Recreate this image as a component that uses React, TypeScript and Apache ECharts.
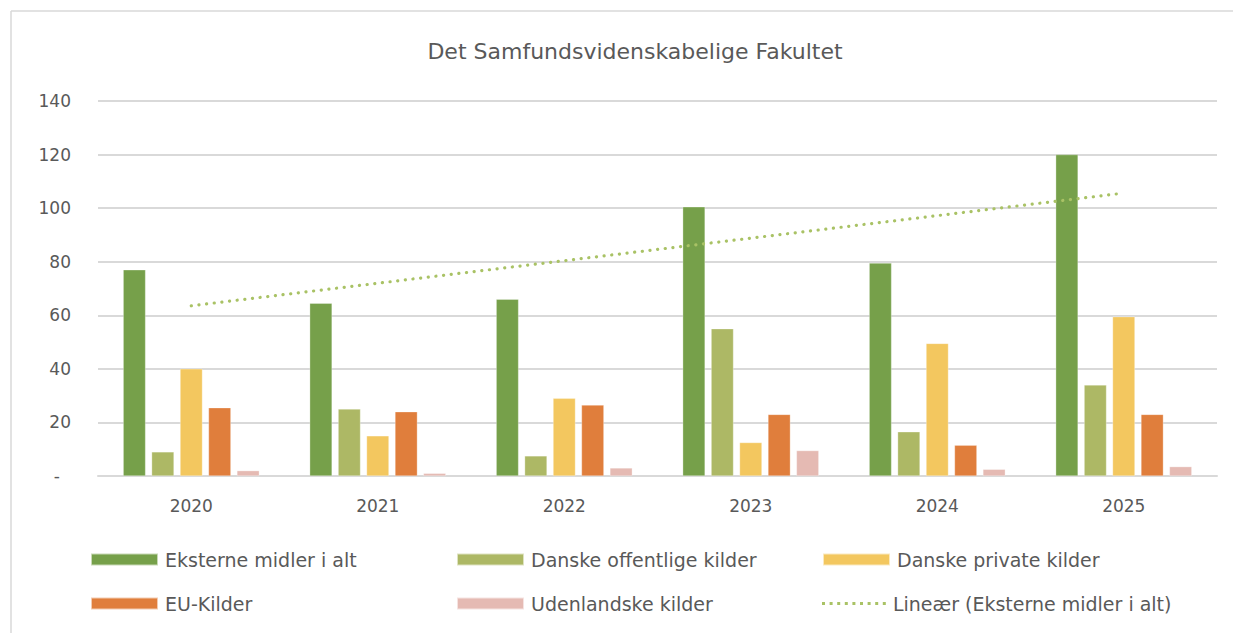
import React, { useEffect, useRef } from "react";
import * as echarts from "echarts";

const categories = ["2020", "2021", "2022", "2023", "2024", "2025"];
const eksterne = [77, 64.5, 66, 100.5, 79.5, 120];
const offentlige = [9, 25, 7.5, 55, 16.5, 34];
const private_ = [40, 15, 29, 12.5, 49.5, 59.5];
const euKilder = [25.5, 24, 26.5, 23, 11.5, 23];
const udenlandske = [2, 1, 3, 9.5, 2.5, 3.5];

const names = [
  "Eksterne midler i alt",
  "Danske offentlige kilder",
  "Danske private kilder",
  "EU-Kilder",
  "Udenlandske kilder",
  "Lineær (Eksterne midler i alt)",
];
const colors = ["#76A04A", "#ADB865", "#F3C75F", "#E07E3C", "#E5BAB3", "#A9C265"];

function linearTrend(vals: number[]): number[] {
  const n = vals.length;
  const xs = vals.map((_, i) => i + 1);
  const mx = xs.reduce((a, b) => a + b, 0) / n;
  const my = vals.reduce((a, b) => a + b, 0) / n;
  let sxy = 0, sxx = 0;
  for (let i = 0; i < n; i++) {
    sxy += (xs[i] - mx) * (vals[i] - my);
    sxx += (xs[i] - mx) ** 2;
  }
  const b = sxy / sxx;
  return xs.map((x) => +(my + b * (x - mx)).toFixed(3));
}

function dotsIcon(): string {
  let d = "path://";
  for (let k = 0; k < 9; k++) {
    const x = k * 7.6;
    d += `M${x.toFixed(1)},0h3v3h-3z`;
  }
  return d;
}

export default function App() {
  const ref = useRef<HTMLDivElement>(null);
  useEffect(() => {
    if (!ref.current) return;
    const chart = echarts.init(ref.current, null, { renderer: "svg" });
    const font = "'DejaVu Sans', 'Open Sans', sans-serif";
    const txt = "#595959";
    const legendPos = [
      [90, 550],
      [456, 550],
      [822, 550],
      [90, 594],
      [456, 594],
      [822, 594],
    ];
    const barData = [eksterne, offentlige, private_, euKilder, udenlandske];
    const series: any[] = barData.map((d, i) => ({
      name: names[i],
      type: "bar",
      data: d,
      barGap: "27%",
      barCategoryGap: "27%",
      itemStyle: { color: colors[i], borderColor: "rgba(255,255,255,0.6)", borderWidth: 0.5 },
    }));
    series.push({
      name: names[5],
      type: "line",
      data: linearTrend(eksterne),
      symbol: "none",
      z: 5,
      lineStyle: { color: colors[5], width: 3.2, type: [0.1, 7.6], cap: "round" },
      itemStyle: { color: colors[5] },
    });
    chart.setOption({
      animation: false,
      color: colors,
      title: {
        text: "Det Samfundsvidenskabelige Fakultet",
        left: 630,
        textAlign: "center",
        top: 35,
        textStyle: { fontFamily: font, fontSize: 22, fontWeight: "normal", color: txt },
      },
      legend: names.map((n, i) => ({
        data: [i === 5 ? { name: n, icon: dotsIcon() } : { name: n, icon: "rect" }],
        left: legendPos[i][0],
        top: legendPos[i][1],
        padding: 0,
        itemWidth: i === 5 ? 64 : 67,
        itemHeight: i === 5 ? 3 : 12,
        itemGap: 0,
        selectedMode: false,
        textStyle: { fontFamily: font, fontSize: 19, color: txt, padding: [0, 0, 0, 2] },
      })),
      grid: { left: 98, right: 16, top: 101, bottom: 157 },
      xAxis: {
        type: "category",
        data: categories,
        axisTick: { show: false },
        axisLine: { lineStyle: { color: "#D9D9D9", width: 2 } },
        axisLabel: { fontFamily: font, fontSize: 17, color: txt, margin: 21 },
      },
      yAxis: {
        type: "value",
        min: 0,
        max: 140,
        interval: 20,
        axisLabel: {
          fontFamily: font,
          fontSize: 17,
          color: txt,
          margin: 27,
          formatter: (v: number) => (v === 0 ? "{z|-}" : String(v)),
          rich: { z: { fontFamily: font, fontSize: 17, color: txt, padding: [0, 11, 0, 0] } },
        },
        splitLine: { lineStyle: { color: "#D9D9D9", width: 2 } },
      },
      graphic: [
        { type: "line", shape: { x1: 11, y1: 11, x2: 1233, y2: 11 }, style: { stroke: "#D9D9D9", lineWidth: 1.5 } },
        { type: "line", shape: { x1: 11, y1: 11, x2: 11, y2: 633 }, style: { stroke: "#D9D9D9", lineWidth: 1.5 } },
      ],
      series,
    });
    return () => chart.dispose();
  }, []);
  return (
    <div
      ref={ref}
      style={{ position: "absolute", left: 0, top: 0, width: 1233, height: 633, background: "#fff" }}
    />
  );
}
